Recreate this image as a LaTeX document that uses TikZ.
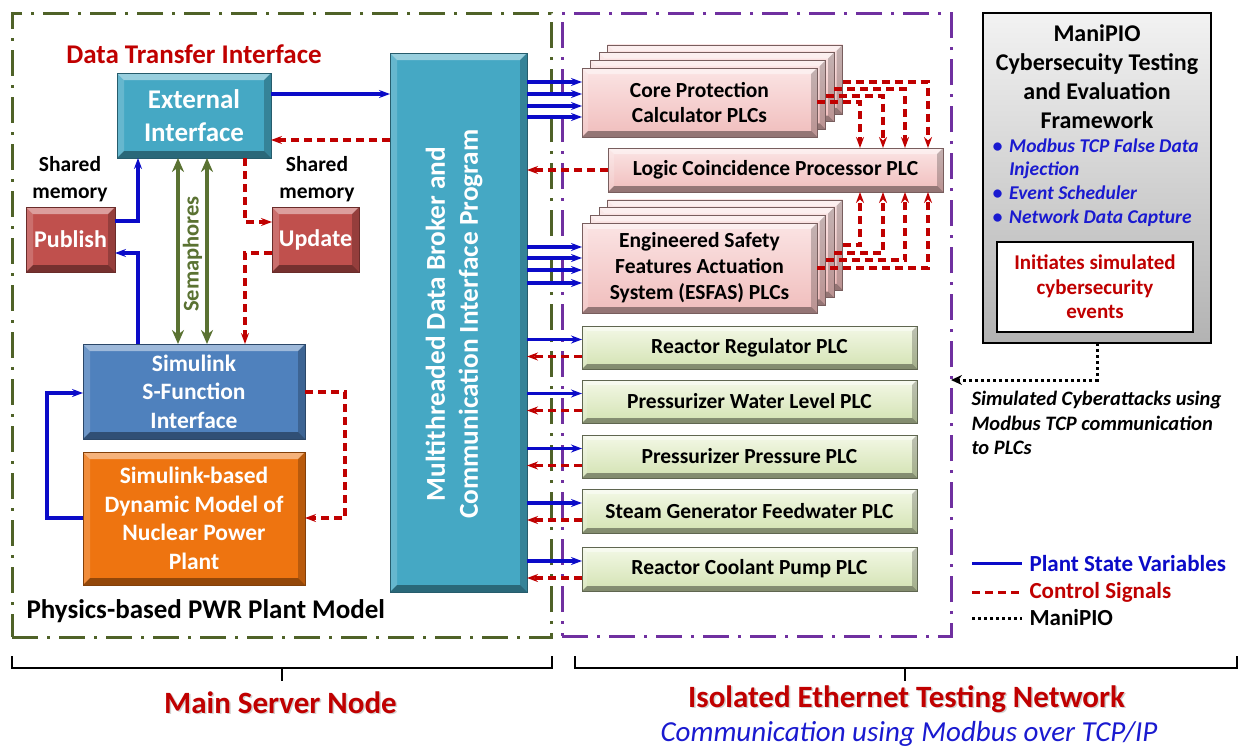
\documentclass[tikz,border=0pt]{standalone}
\usepackage{fontspec}
\setmainfont{Carlito}
\usetikzlibrary{arrows.meta,calc}

\definecolor{oliveline}{HTML}{4F6228}
\definecolor{purpline}{HTML}{7030A0}
\definecolor{tealbox}{HTML}{45A8C4}
\definecolor{redbox}{HTML}{C0504D}
\definecolor{bluebox}{HTML}{4F81BD}
\definecolor{orangebox}{HTML}{EE7410}
\definecolor{pinktop}{HTML}{FBE4E4}
\definecolor{pinkbot}{HTML}{F0BDBC}
\definecolor{greentop}{HTML}{F3F8E6}
\definecolor{greenbot}{HTML}{D3E2B2}
\definecolor{sigblue}{HTML}{0B0BC8}
\definecolor{sigred}{HTML}{C00000}
\definecolor{semgreen}{HTML}{5A7232}
\definecolor{titlered}{HTML}{C00000}
\definecolor{bulletblue}{HTML}{1A1AD0}

\newcommand{\fs}[2]{\fontsize{#1}{#2}\selectfont}

\tikzset{
  bevel/.style={path picture={
    \fill[white,opacity=0.45]
      (path picture bounding box.north west) -- (path picture bounding box.north east)
      -- ([shift={(-#1,-#1)}]path picture bounding box.north east)
      -- ([shift={(#1,-#1)}]path picture bounding box.north west) -- cycle;
    \fill[white,opacity=0.18]
      (path picture bounding box.north west) -- (path picture bounding box.south west)
      -- ([shift={(#1,#1)}]path picture bounding box.south west)
      -- ([shift={(#1,-#1)}]path picture bounding box.north west) -- cycle;
    \fill[black,opacity=0.22]
      (path picture bounding box.north east) -- (path picture bounding box.south east)
      -- ([shift={(-#1,#1)}]path picture bounding box.south east)
      -- ([shift={(-#1,-#1)}]path picture bounding box.north east) -- cycle;
    \fill[black,opacity=0.38]
      (path picture bounding box.south west) -- (path picture bounding box.south east)
      -- ([shift={(-#1,#1)}]path picture bounding box.south east)
      -- ([shift={(#1,#1)}]path picture bounding box.south west) -- cycle;
  }},
  bevel/.default=7pt,
  boxbase/.style={rectangle, inner sep=0pt, outer sep=0pt, align=center},
  darkbox/.style={boxbase, fill=#1, draw=#1!55!black, line width=0.6pt, bevel,
    text=white, font=\bfseries},
  pinkplc/.style={boxbase, top color=pinktop, bottom color=pinkbot, draw=pinkbot!50!black,
    line width=0.5pt, bevel=6pt, font=\bfseries\fs{21.5}{25}, minimum width=235pt, minimum height=69pt},
  greenplc/.style={boxbase, top color=greentop, bottom color=greenbot, draw=greenbot!45!black,
    line width=0.5pt, bevel=5pt, font=\bfseries\fs{21.5}{24}, minimum width=335pt, minimum height=43pt},
  olivebox/.style={draw=oliveline, line width=3pt, dash pattern=on 26pt off 9pt on 3pt off 9pt},
  purplebox/.style={draw=purpline, line width=3pt, dash pattern=on 26pt off 9pt on 3pt off 9pt},
  tipb/.style={-{Stealth[length=11pt,width=8pt]}},
  sblue/.style={draw=sigblue, line width=3.2pt, tipb},
  sred/.style={draw=sigred, line width=3.2pt, dash pattern=on 8pt off 5pt, tipb},
  semarrow/.style={draw=semgreen, line width=3.4pt,
    {Stealth[length=14pt,width=12pt]}-{Stealth[length=14pt,width=12pt]}},
  mdot/.style={draw=black, line width=3pt, dash pattern=on 3pt off 3pt,
    -{Stealth[length=11pt,width=10pt]}},
}

\begin{document}
\begin{tikzpicture}[x=1pt,y=-1pt]
\useasboundingbox (0,0) rectangle (1243,750);
\fill[white] (0,0) rectangle (1243,750);

% ---------- enclosing regions ----------
\node[boxbase, olivebox, minimum width=539pt, minimum height=624pt] (srv) at (281.5,325) {};
\node[boxbase, purplebox, minimum width=389pt, minimum height=623pt] (net) at (756.5,324.5) {};

% ---------- main server side ----------
\node[text=titlered, font=\bfseries\fs{27}{30}] (dti) at (194,54) {Data Transfer Interface};
\node[darkbox=tealbox, font=\bfseries\fs{27}{33}, minimum width=154pt, minimum height=85pt]
  (ext) at (194,115.5) {External\\Interface};
\node[align=center, font=\bfseries\fs{21.5}{27}] (shl) at (70,179) {Shared\\memory};
\node[align=center, font=\bfseries\fs{21.5}{27}] (shr) at (317,179) {Shared\\memory};
\node[darkbox=redbox, font=\bfseries\fs{24}{26}, minimum width=89pt, minimum height=65pt]
  (pub) at (70.5,239.5) {Publish};
\node[darkbox=redbox, font=\bfseries\fs{24}{26}, minimum width=87pt, minimum height=65pt]
  (upd) at (315.5,239.5) {Update};
\node[darkbox=bluebox, font=\bfseries\fs{23.5}{28.5}, minimum width=222pt, minimum height=95pt]
  (sim) at (194,391.5) {Simulink\\S-Function\\Interface};
\node[darkbox=orangebox, font=\bfseries\fs{23.5}{28.5}, minimum width=222pt, minimum height=133pt]
  (dyn) at (194,518.5) {Simulink-based\\Dynamic Model of\\Nuclear Power\\Plant};
\node[anchor=west, font=\bfseries\fs{27}{30}] (phys) at (23,611) {Physics-based PWR Plant Model};

\node[darkbox=tealbox, minimum width=137pt, minimum height=539pt] (mt) at (458.5,322.5) {};
\node[rotate=90, align=center, text=white, font=\bfseries\fs{27.3}{33}] (mttext) at (454,324)
  {Multithreaded Data Broker and\\Communication Interface Program};

% semaphores
\draw[semarrow] (178,0 |- ext.south) -- (178,0 |- sim.north);
\draw[semarrow] (207,0 |- ext.south) -- (207,0 |- sim.north);
\node[rotate=90, text=semgreen, font=\bfseries\fs{22.5}{25}] (sem) at (192.5,254) {Semaphores};

% shared memory links
\draw[sblue] (pub.east |- 0,221) -| (138,0 |- ext.south);
\draw[sblue] (138,0 |- sim.north) |- (pub.east |- 0,253);
\draw[sred] (245,0 |- ext.south) |- (upd.west |- 0,222);
\draw[sred] (upd.west |- 0,253) -| (245,0 |- sim.north);

% simulink loop
\draw[sblue] (dyn.west |- 0,518) -- (47,518) |- (sim.west |- 0,393);
\draw[sred] (sim.east |- 0,392) -- (345,392) |- (dyn.east |- 0,518);

% external interface <-> broker
\draw[sblue] (ext.east |- 0,94) -- (mt.west |- 0,94);
\draw[sred] (mt.west |- 0,140) -- (ext.east |- 0,140);

% ---------- PLC network ----------
\foreach \k in {3,2,1}
  \node[pinkplc] (cp\k) at ($(699.5,102.5)+(\k*8.5,-\k*7.7)$) {};
\node[pinkplc] (cp0) at (699.5,102.5) {Core Protection\\Calculator PLCs};

\foreach \k in {3,2,1}
  \node[pinkplc, minimum height=90pt] (es\k) at ($(699.5,268)+(\k*8.5,-\k*7.7)$) {};
\node[pinkplc, minimum height=90pt, font=\bfseries\fs{21.5}{26}] (es0) at (699.5,268)
  {Engineered Safety\\Features Actuation\\System (ESFAS) PLCs};

\node[pinkplc, minimum width=335pt, minimum height=44pt] (lcp) at (775.5,170)
  {Logic Coincidence Processor PLC};

\node[greenplc] (rr)  at (749.5,347.5) {Reactor Regulator PLC};
\node[greenplc] (pwl) at (749.5,401.5) {Pressurizer Water Level PLC};
\node[greenplc] (pp)  at (749.5,456.5) {Pressurizer Pressure PLC};
\node[greenplc, minimum height=44pt] (sg) at (749.5,511) {Steam Generator Feedwater PLC};
\node[greenplc, minimum height=44pt] (rcp) at (749.5,569) {Reactor Coolant Pump PLC};

% broker -> protection and actuation PLCs
\foreach \yy in {82,94,106,117}
  \draw[sblue] (mt.east |- 0,\yy) -- (cp0.west |- 0,\yy);
\foreach \yy in {247,258,270,283}
  \draw[sblue] (mt.east |- 0,\yy) -- (es0.west |- 0,\yy);
\draw[sred] (lcp.west) -- (mt.east |- lcp.west);

% core protection -> logic coincidence
\draw[sred] (cp0.east |- 0,102) -| (860,0 |- lcp.north);
\draw[sred] (cp1.east |- 0,96)  -| (883,0 |- lcp.north);
\draw[sred] (cp2.east |- 0,89)  -| (905,0 |- lcp.north);
\draw[sred] (cp3.east |- 0,82)  -| (928,0 |- lcp.north);
% ESFAS -> logic coincidence
\draw[sred] (es3.east |- 0,245) -| (860,0 |- lcp.south);
\draw[sred] (es2.east |- 0,253) -| (883,0 |- lcp.south);
\draw[sred] (es1.east |- 0,260) -| (905,0 |- lcp.south);
\draw[sred] (es0.east |- 0,268) -| (928,0 |- lcp.south);

% broker <-> single PLCs
\foreach \n in {rr,pwl,pp,sg,rcp}{
  \draw[sblue] (mt.east |- {$(\n.center)+(0,-8)$}) -- ($(\n.west)+(0,-8)$);
  \draw[sred] ($(\n.west)+(0,9)$) -- (mt.east |- {$(\n.center)+(0,9)$});
}

% ---------- ManiPIO framework ----------
\node[boxbase, draw=black, line width=1.6pt, top color=gray!10, bottom color=gray!60,
  minimum width=228pt, minimum height=330pt] (fw) at (1097,178) {};
\node[align=center, font=\bfseries\fs{24}{29}] (fwtitle) at (1097,77)
  {ManiPIO\\Cybersecuity Testing\\and Evaluation\\Framework};
\node[anchor=west, text=bulletblue, font=\bfseries\itshape\fs{19.5}{23.7}] (fwlist) at (989,183)
  {\begin{tabular}{@{}l@{\hspace{7pt}}l@{}}
   \textbullet & Modbus TCP False Data\\
               & Injection\\
   \textbullet & Event Scheduler\\
   \textbullet & Network Data Capture
   \end{tabular}};
\node[boxbase, fill=white, draw=black, line width=1.4pt, minimum width=196pt, minimum height=90pt,
  text=titlered, font=\bfseries\fs{21}{24.5}] (ini) at (1095,287)
  {Initiates simulated\\cybersecurity\\events};

\draw[mdot] (fw.south) |- (net.east |- 0,380);
\node[anchor=west, align=left, font=\bfseries\itshape\fs{20.5}{24.5}] (atk) at (968,423)
  {Simulated Cyberattacks using\\Modbus TCP communication\\to PLCs};

% ---------- legend ----------
\draw[draw=sigblue, line width=3pt] (972,563) -- (1022,563);
\node[anchor=west, text=sigblue, font=\bfseries\fs{23}{26}] (lg1) at (1026,564) {Plant State Variables};
\draw[draw=sigred, line width=3pt, dash pattern=on 8pt off 5pt] (972,592) -- (1022,592);
\node[anchor=west, text=titlered, font=\bfseries\fs{23}{26}] (lg2) at (1026,592) {Control Signals};
\draw[draw=black, line width=3pt, dash pattern=on 3pt off 3pt] (972,618) -- (1022,618);
\node[anchor=west, font=\bfseries\fs{23}{26}] (lg3) at (1026,618) {ManiPIO};

% ---------- bottom braces ----------
\draw[line width=2pt] (12,656) -- (12,668) -- (552,668) -- (552,656);
\draw[line width=2pt] (282,668) -- (282,681);
\draw[line width=2pt] (575,656) -- (575,668) -- (1237,668) -- (1237,656);
\draw[line width=2pt] (905,668) -- (905,681);

\node[anchor=base, text=gray!35, font=\bfseries\fs{31}{34}] (msns) at (282,714.5) {Main Server Node};
\node[anchor=base, text=titlered, font=\bfseries\fs{31}{34}] (msn) at (280.5,713) {Main Server Node};
\node[anchor=base, text=gray!35, font=\bfseries\fs{31}{34}] (iens) at (908,708.5) {Isolated Ethernet Testing Network};
\node[anchor=base, text=titlered, font=\bfseries\fs{31}{34}] (ien) at (906.5,707) {Isolated Ethernet Testing Network};
\node[anchor=base, text=bulletblue, font=\itshape\fs{29}{32}] (com) at (909,741) {Communication using Modbus over TCP/IP};
\end{tikzpicture}
\end{document}
